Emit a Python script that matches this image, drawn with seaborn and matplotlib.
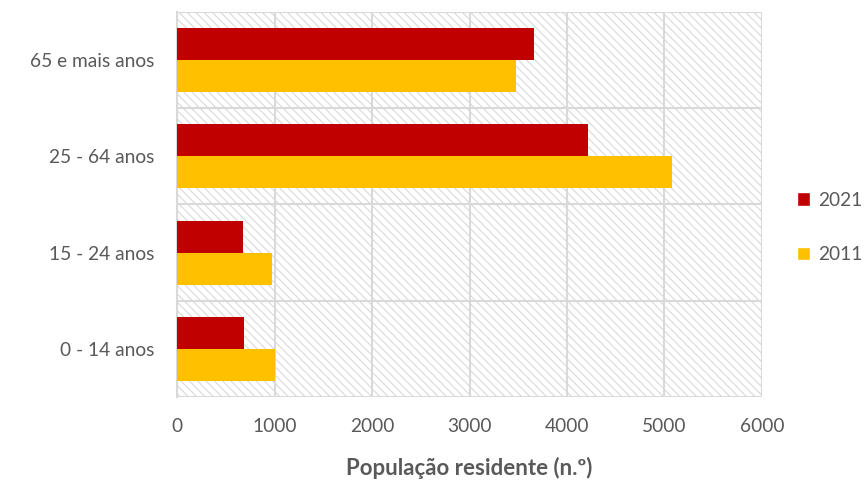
import pandas as pd
import matplotlib.pyplot as plt
import seaborn as sns
from matplotlib.patches import Rectangle, Patch

# --- dados ---
faixas = ['65 e mais anos', '25 - 64 anos', '15 - 24 anos', '0 - 14 anos']
anos = ['2021', '2011']
pop_2021 = [3665, 4218, 679, 689]
pop_2011 = [3477, 5072, 977, 1008]
cores = ['#C00000', '#FFC000']
ticks_x = [0, 1000, 2000, 3000, 4000, 5000, 6000]

df = pd.DataFrame({
    'faixa': faixas * 2,
    'ano': ['2021'] * len(faixas) + ['2011'] * len(faixas),
    'pop': pop_2021 + pop_2011,
})

sns.set_style('white')
plt.rcParams['font.family'] = ['Lato', 'DejaVu Sans']
plt.rcParams['hatch.linewidth'] = 0.8

fig = plt.figure(figsize=(8.66, 4.84), dpi=100)
ax = fig.add_axes([0.2044, 0.180, 0.6755, 0.795])

# fundo tracejado
ax.add_patch(Rectangle((0, 0), 1, 1, transform=ax.transAxes, facecolor='white',
                       edgecolor='#d9d9d9', hatch='\\\\\\\\', lw=0, zorder=0))

sns.barplot(data=df, x='pop', y='faixa', hue='ano', order=faixas, hue_order=anos,
            palette=cores, orient='h', width=0.667, saturation=1, ax=ax,
            legend=False, zorder=3, linewidth=0)

ax.set_xlim(0, 6000)
ax.set_ylim(3.5, -0.5)
ax.set_xticks(ticks_x)
ax.set_xticklabels([str(t) for t in ticks_x])
ax.set_yticks(range(len(faixas)))
ax.set_yticks([i - 0.5 for i in range(len(faixas) + 1)], minor=True)

ax.set_axisbelow(True)
ax.grid(True, axis='x', color='#d9d9d9', lw=1.5)
ax.grid(True, axis='y', which='minor', color='#d9d9d9', lw=1.5)
ax.grid(False, axis='y', which='major')

fs = 13.8
ax.tick_params(axis='y', which='major', length=0, pad=16, labelsize=fs, labelcolor='#595959')
ax.tick_params(axis='y', which='minor', length=5, color='#d9d9d9', width=1.5)
ax.tick_params(axis='x', length=0, pad=15, labelsize=fs, labelcolor='#595959')

for s in ['top', 'right', 'bottom']:
    ax.spines[s].set_visible(False)
ax.spines['left'].set_color('#d9d9d9')
ax.spines['left'].set_linewidth(1.5)

ax.set_ylabel('')
ax.set_xlabel('População residente (n.º)', fontsize=16, fontweight='bold',
              color='#595959', labelpad=16)

handles = [Patch(facecolor=c, label=a) for c, a in zip(cores, anos)]
fig.legend(handles=handles, loc='center left', bbox_to_anchor=(0.9, 0.53),
           frameon=False, handlelength=0.7, handleheight=0.7, handletextpad=0.4,
           labelspacing=1.95, fontsize=fs, labelcolor='#595959')

fig.savefig('out.png', dpi=100)
